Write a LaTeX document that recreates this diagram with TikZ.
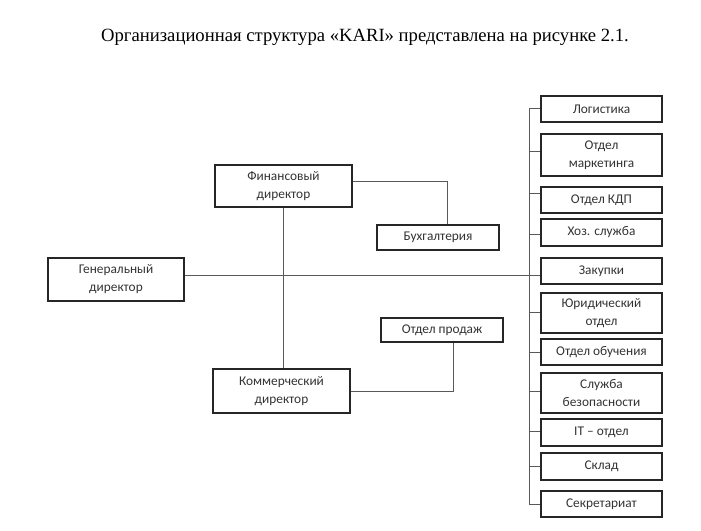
\documentclass[tikz,border=0pt]{standalone}
\usepackage{fontspec}
\setmainfont{Liberation Serif}
\newfontfamily\boxfont{Carlito}
\begin{document}
\begin{tikzpicture}[x=0.75pt,y=-0.75pt,
  box/.style={draw=black!85, line width=1pt, inner sep=0pt, align=center,
    font=\boxfont\fontsize{10}{13.5}\selectfont, text=black!80},
  conn/.style={draw=black!65, line width=0.7pt}]
\useasboundingbox (0,0) rectangle (701,531);
\node[font=\fontsize{14}{16}\selectfont] (title) at (365,37) {Организационная структура «KARI» представлена на рисунке 2.1.};
% left part
\node[box, minimum width=102.75pt, minimum height=31.5pt] (fin) at (283.5,186) {Финансовый\\директор};
\node[box, minimum width=102pt, minimum height=32.25pt] (gen) at (116,279.5) {Генеральный\\директор};
\node[box, minimum width=102.75pt, minimum height=33pt] (kom) at (281.5,391) {Коммерческий\\директор};
\node[box, minimum width=91.5pt, minimum height=18.75pt] (buh) at (438,237.5) {Бухгалтерия};
\node[box, minimum width=91.5pt, minimum height=18pt] (prod) at (442,330) {Отдел продаж};
% right column
\tikzset{rbox/.style={box, minimum width=90.75pt}}
\node[rbox, minimum height=19.5pt] (log) at (601.5,109) {Логистика};
\node[rbox, minimum height=31.5pt] (mark) at (601.5,155) {Отдел\\маркетинга};
\node[rbox, minimum height=19.5pt] (kdp) at (601.5,200) {Отдел КДП};
\node[rbox, minimum height=20.25pt] (hoz) at (601.5,232.5) {Хоз. служба};
\node[rbox, minimum height=19.5pt] (zak) at (601.5,271) {Закупки};
\node[rbox, minimum height=30pt] (yur) at (601.5,313) {Юридический\\отдел};
\node[rbox, minimum height=19.5pt] (obu) at (601.5,352) {Отдел обучения};
\node[rbox, minimum height=30pt] (bez) at (601.5,393) {Служба\\безопасности};
\node[rbox, minimum height=20.25pt] (it) at (601.5,432.5) {IT – отдел};
\node[rbox, minimum height=20.25pt] (skl) at (601.5,466.5) {Склад};
\node[rbox, minimum height=19.5pt] (sek) at (601.5,504) {Секретариат};
% bus
\coordinate (btop) at (529,108);
\coordinate (bbot) at (529,504);
\draw[conn] (btop) -- (bbot);
\foreach \n/\yy in {log/108, mark/151, kdp/193, hoz/234, yur/312, obu/352, bez/391, it/431, skl/466, sek/504}{
  \coordinate (c\n) at (529,\yy);
  \draw[conn] (c\n) -- (c\n -| \n.west);
}
% general line
\coordinate (gl) at (184,275);
\draw[conn] (gl -| gen.east) -- (gl -| zak.west);
% fin - kom
\draw[conn] (fin.south) -- (fin.south |- kom.north);
% fin - buh
\coordinate (fb) at (447,181);
\draw[conn] (fb -| fin.east) -- (fb) -- (fb |- buh.north);
% kom - prod
\coordinate (kp) at (453,391);
\draw[conn] (kp -| kom.east) -- (kp) -- (kp |- prod.south);
\end{tikzpicture}
\end{document}
